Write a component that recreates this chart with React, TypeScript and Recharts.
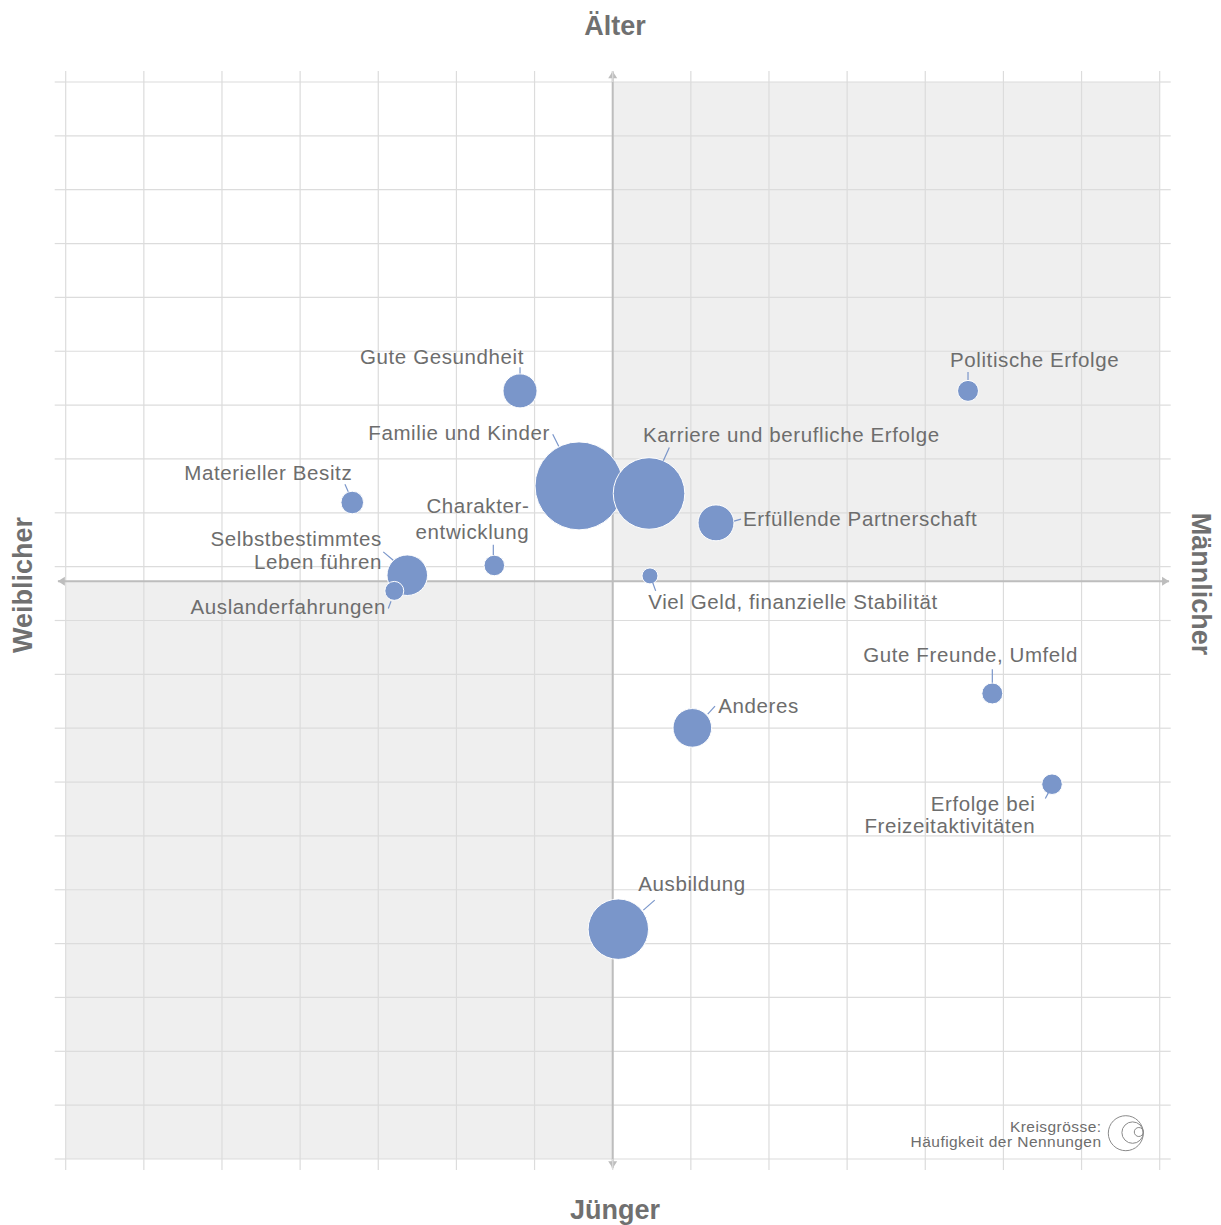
import React from "react";
import {
  ScatterChart,
  Scatter,
  XAxis,
  YAxis,
  ZAxis,
  CartesianGrid,
  ReferenceArea,
  ReferenceLine,
  Customized,
} from "recharts";

// ---------- data ----------
const categories = [
  "Gute Gesundheit",
  "Politische Erfolge",
  "Familie und Kinder",
  "Karriere und berufliche Erfolge",
  "Erfüllende Partnerschaft",
  "Materieller Besitz",
  "Charakter-\nentwicklung",
  "Selbstbestimmtes\nLeben führen",
  "Auslanderfahrungen",
  "Viel Geld, finanzielle Stabilität",
  "Gute Freunde, Umfeld",
  "Anderes",
  "Erfolge bei\nFreizeitaktivitäten",
  "Ausbildung",
];
// x: weiblicher (-) ... männlicher (+)
const geschlecht = [-1.186, 4.547, -0.431, 0.465, 1.322, -3.333, -1.515, -2.629, -2.795, 0.477, 4.858, 1.019, 5.622, 0.072];
// y: jünger (-) ... älter (+)
const alter = [3.534, 3.534, 1.77, 1.629, 1.083, 1.461, 0.292, 0.111, -0.18, 0.098, -2.085, -2.724, -3.77, -6.462];
// Häufigkeit der Nennungen (Kreisgrösse)
const nennungen = [14.5, 5.5, 97, 64.2, 16.2, 6.4, 5.3, 20.6, 4.5, 3.2, 5.5, 18.7, 5.3, 45.7];

const xTicks = [-7, -6, -5, -4, -3, -2, -1, 0, 1, 2, 3, 4, 5, 6, 7];
const yTicks = [
  -10.73, -9.73, -8.73, -7.73, -6.73, -5.73, -4.73, -3.73, -2.73, -1.73, -0.73,
  0.27, 1.27, 2.27, 3.27, 4.27, 5.27, 6.27, 7.27, 8.27, 9.27,
];
const xDomain = [-7, 7];
const yDomain = [-10.73, 9.27];

const axisTitles = { top: "Älter", bottom: "Jünger", left: "Weiblicher", right: "Männlicher" };
const legendLines = ["Kreisgrösse:", "Häufigkeit der Nennungen"];

const rows = categories.map((name, i) => ({
  name,
  x: geschlecht[i],
  y: alter[i],
  nennungen: nennungen[i],
}));

// ---------- layout / style ----------
const FONT = "'Liberation Sans', Arial, Helvetica, sans-serif";
const BUBBLE = "#7a96ca";
const TEXT = "#6d6d6d";
const GRID = "#dcdcdc";
const AXIS = "#bdbdbd";
const TICK = 11;

type LabelLayout = {
  anchor: "start" | "end";
  dx: number;
  dy: number;
  lh?: number;
  leader: [number, number, number, number];
};

const labelLayout: Record<string, LabelLayout> = {
  "Gute Gesundheit": { anchor: "end", dx: 4, dy: -26.7, leader: [0, -23.7, 0, -17.5] },
  "Politische Erfolge": { anchor: "start", dx: -18, dy: -24, leader: [0, -19, 0, -11] },
  "Familie und Kinder": { anchor: "end", dx: -29, dy: -45.7, leader: [-26.3, -51.7, -20.3, -39.7] },
  "Karriere und berufliche Erfolge": { anchor: "start", dx: -6, dy: -51.6, leader: [20.3, -46, 14.3, -32.6] },
  "Erfüllende Partnerschaft": { anchor: "start", dx: 27, dy: 3, leader: [18, -1.7, 25, -3.7] },
  "Materieller Besitz": { anchor: "end", dx: 0, dy: -23, leader: [-7.3, -18.3, -4, -10.8] },
  "Charakter-\nentwicklung": { anchor: "end", dx: 35, dy: -52.6, lh: 26.3, leader: [-1, -20.6, -1, -10.3] },
  "Selbstbestimmtes\nLeben führen": { anchor: "end", dx: -25.3, dy: -29.3, lh: 22.6, leader: [-24, -23.3, -14, -15] },
  "Auslanderfahrungen": { anchor: "end", dx: -8.3, dy: 23.3, leader: [-6, 17.6, -3.3, 10.3] },
  "Viel Geld, finanzielle Stabilität": { anchor: "start", dx: -1.7, dy: 32.6, leader: [2.7, 6.6, 5.7, 15] },
  "Gute Freunde, Umfeld": { anchor: "end", dx: 85.7, dy: -31.6, leader: [0, -24.3, 0, -10.8] },
  "Anderes": { anchor: "start", dx: 26, dy: -14.4, leader: [15.4, -13.7, 22.7, -21.7] },
  "Erfolge bei\nFreizeitaktivitäten": { anchor: "end", dx: -16.7, dy: 26.7, lh: 22, leader: [-6.7, 14.3, -3.7, 8.7] },
  "Ausbildung": { anchor: "start", dx: 20, dy: -38.3, leader: [25, -19, 36.4, -29] },
};

const radiusOf = (p: any) =>
  typeof p.size === "number" ? Math.sqrt(Math.max(p.size, 0) / Math.PI) : (p.width || 0) / 2;

const BubbleShape = (p: any) => {
  if (p.cx == null || p.cy == null) return <g />;
  return <circle cx={p.cx} cy={p.cy} r={radiusOf(p)} fill={BUBBLE} stroke="#ffffff" strokeWidth={1} />;
};

const LabelShape = (p: any) => {
  if (p.cx == null || p.cy == null) return <g />;
  const name: string = p.payload?.name ?? "";
  const l = labelLayout[name];
  if (!l) return <g />;
  const lines = name.split("\n");
  const lh = l.lh ?? 22;
  const [a, b, c, d] = l.leader;
  return (
    <g>
      <line x1={p.cx + a} y1={p.cy + b} x2={p.cx + c} y2={p.cy + d} stroke={BUBBLE} strokeWidth={1.2} />
      {lines.map((t, i) => (
        <text
          key={i}
          x={p.cx + l.dx}
          y={p.cy + l.dy + i * lh}
          textAnchor={l.anchor}
          fill={TEXT}
          fontSize={20.5}
          letterSpacing={0.6}
          fontFamily={FONT}
        >
          {t}
        </text>
      ))}
    </g>
  );
};

const ArrowAxis = (p: any) => {
  const { x1, y1, x2, y2 } = p;
  if ([x1, y1, x2, y2].some((v) => typeof v !== "number" || isNaN(v))) return <g />;
  const dx = x2 - x1;
  const dy = y2 - y1;
  const len = Math.hypot(dx, dy) || 1;
  const ux = dx / len;
  const uy = dy / len;
  const px = -uy;
  const py = ux;
  const L = 7;
  const W = 4.5;
  const head = (tx: number, ty: number, sx: number, sy: number) =>
    `${tx},${ty} ${tx - sx * L + px * W},${ty - sy * L + py * W} ${tx - sx * L - px * W},${ty - sy * L - py * W}`;
  return (
    <g>
      <line x1={x1} y1={y1} x2={x2} y2={y2} stroke={AXIS} strokeWidth={2} />
      <polygon points={head(x2, y2, ux, uy)} fill={AXIS} />
      <polygon points={head(x1, y1, -ux, -uy)} fill={AXIS} />
    </g>
  );
};

const Decorations = (
  <g fontFamily={FONT}>
    <text x={615} y={35} textAnchor="middle" fontSize={27} fontWeight="bold" fill="#707070">
      {axisTitles.top}
    </text>
    <text x={615} y={1219} textAnchor="middle" fontSize={27} fontWeight="bold" fill="#707070">
      {axisTitles.bottom}
    </text>
    <text
      x={23}
      y={585}
      textAnchor="middle"
      dominantBaseline="central"
      fontSize={27}
      fontWeight="bold"
      fill="#707070"
      transform="rotate(-90 23 585)"
    >
      {axisTitles.left}
    </text>
    <text
      x={1201}
      y={584}
      textAnchor="middle"
      dominantBaseline="central"
      fontSize={27}
      fontWeight="bold"
      fill="#707070"
      transform="rotate(90 1201 584)"
    >
      {axisTitles.right}
    </text>
    <text x={1101.5} y={1132} textAnchor="end" fontSize={15.5} letterSpacing={0.45} fill={TEXT}>
      {legendLines[0]}
    </text>
    <text x={1101.5} y={1147} textAnchor="end" fontSize={15.5} letterSpacing={0.45} fill={TEXT}>
      {legendLines[1]}
    </text>
    <circle cx={1125.8} cy={1133.2} r={17.5} fill="none" stroke="#8a8a8a" strokeWidth={1} />
    <circle cx={1132.6} cy={1132.6} r={10.7} fill="none" stroke="#8a8a8a" strokeWidth={1} />
    <circle cx={1138.8} cy={1132} r={4.5} fill="none" stroke="#8a8a8a" strokeWidth={1} />
  </g>
);

const emptyTick = () => "";
const tickLineStyle = { stroke: GRID, strokeWidth: 1.2 };

export default function App() {
  return (
    <div style={{ position: "absolute", left: 0, top: 0, width: 1221, height: 1225, background: "#ffffff" }}>
      <ScatterChart
        width={1221}
        height={1225}
        margin={{ top: 82 - TICK, right: 61.3 - TICK, bottom: 66 - TICK, left: 65.7 - TICK }}
        style={{ fontFamily: FONT }}
      >
        <ReferenceArea x1={0} x2={7} y1={0} y2={9.27} fill="#efefef" fillOpacity={1} stroke="none" zIndex={-200} />
        <ReferenceArea x1={-7} x2={0} y1={-10.73} y2={0} fill="#efefef" fillOpacity={1} stroke="none" zIndex={-200} />
        <CartesianGrid stroke={GRID} strokeWidth={1.2} />
        <XAxis
          type="number"
          dataKey="x"
          domain={xDomain}
          ticks={xTicks}
          interval={0}
          height={TICK}
          tickSize={TICK}
          axisLine={false}
          tickLine={tickLineStyle}
          tickFormatter={emptyTick}
        />
        <XAxis
          xAxisId="top"
          orientation="top"
          type="number"
          dataKey="x"
          domain={xDomain}
          ticks={xTicks}
          interval={0}
          height={TICK}
          tickSize={TICK}
          axisLine={false}
          tickLine={tickLineStyle}
          tickFormatter={emptyTick}
        />
        <YAxis
          type="number"
          dataKey="y"
          domain={yDomain}
          ticks={yTicks}
          interval={0}
          width={TICK}
          tickSize={TICK}
          axisLine={false}
          tickLine={tickLineStyle}
          tickFormatter={emptyTick}
        />
        <YAxis
          yAxisId="right"
          orientation="right"
          type="number"
          dataKey="y"
          domain={yDomain}
          ticks={yTicks}
          interval={0}
          width={TICK}
          tickSize={TICK}
          axisLine={false}
          tickLine={tickLineStyle}
          tickFormatter={emptyTick}
        />
        <ZAxis type="number" dataKey="nennungen" domain={[0, 97]} range={[0, Math.PI * 44 * 44]} />
        <ReferenceLine
          segment={[{ x: -7.1, y: 0 }, { x: 7.12, y: 0 }]}
          ifOverflow="visible"
          shape={ArrowAxis}
        />
        <ReferenceLine
          segment={[{ x: 0, y: -10.9 }, { x: 0, y: 9.47 }]}
          ifOverflow="visible"
          shape={ArrowAxis}
        />
        <Scatter data={rows} shape={BubbleShape} isAnimationActive={false} />
        <Scatter
          data={rows}
          xAxisId="top"
          yAxisId="right"
          shape={LabelShape}
          isAnimationActive={false}
        />
        <Customized component={Decorations} />
      </ScatterChart>
    </div>
  );
}
